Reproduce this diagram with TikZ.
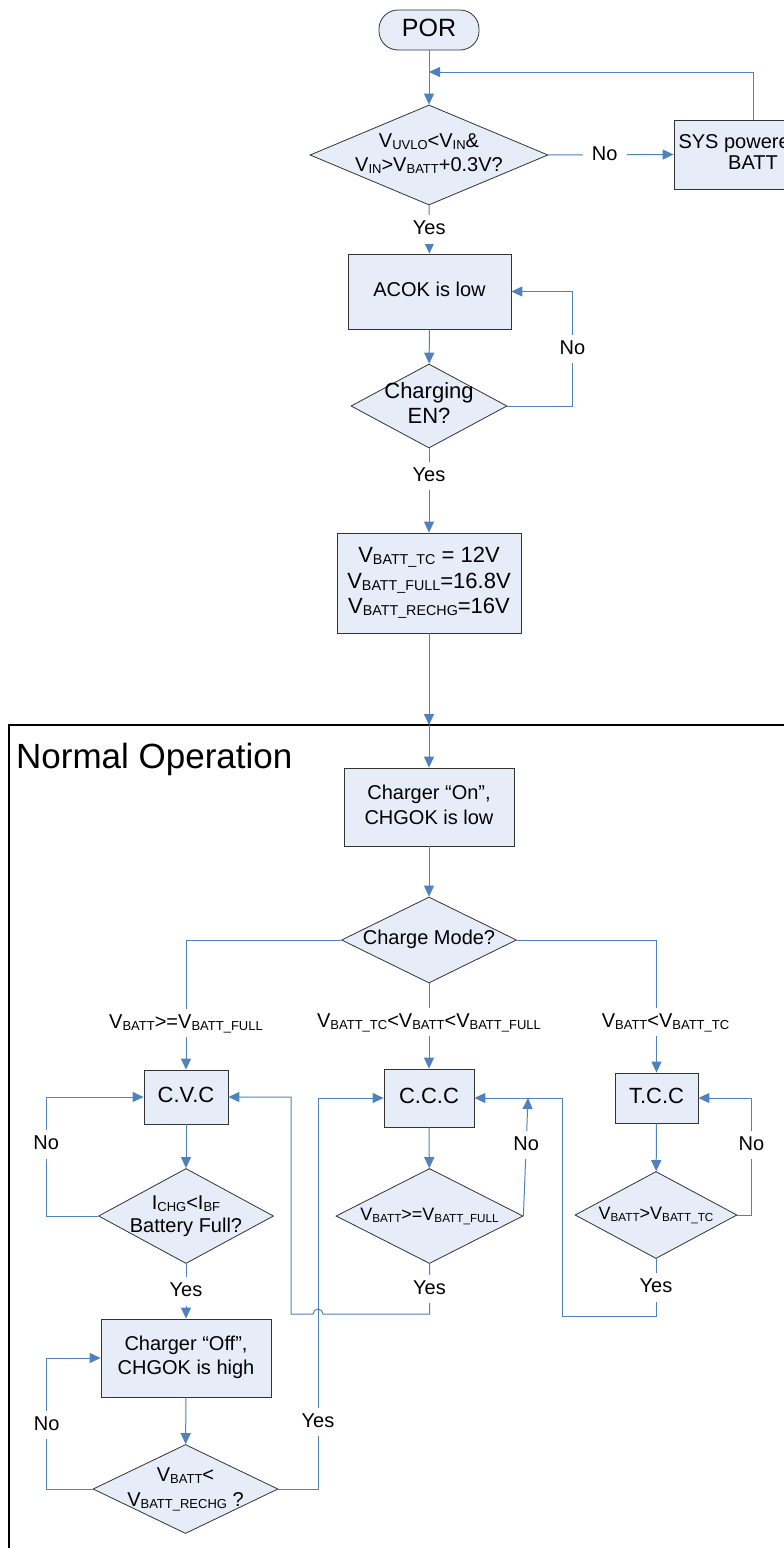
\documentclass[tikz,border=0pt]{standalone}
\usepackage{fontspec}
\setmainfont{Liberation Sans}
\usetikzlibrary{shapes.geometric,arrows.meta}
\definecolor{lineblue}{HTML}{4F81BD}
\definecolor{boxfill}{HTML}{E6EDF8}
\newsavebox\zbx
\newcommand\zc[1]{\sbox\zbx{\begin{tabular}{@{}c@{}}#1\end{tabular}}\makebox[0pt]{\raisebox{\dimexpr-0.5\ht\zbx+0.5\dp\zbx\relax}[0pt][0pt]{\usebox\zbx}}}
\newcommand\fs[2]{\fontsize{#1}{#2}\selectfont}
\newcommand\sbx[1]{\raisebox{-0.1em}{\scalebox{0.65}{#1}}}
\tikzset{
  base/.style={draw=black!80, line width=0.8pt, fill=boxfill, inner sep=0pt},
  box/.style={base, rectangle},
  dia/.style={base, diamond},
  term/.style={base, rectangle, rounded corners=19pt},
  arr/.style={draw=lineblue, line width=1pt, -{Triangle[length=11pt,width=10pt]}},
  lbl/.style={fill=white, inner xsep=9pt, inner ysep=5pt, text height=14.5pt, text depth=4pt, font=\fs{20}{24}},
}
\begin{document}
\begin{tikzpicture}[x=1pt,y=-1pt]
\useasboundingbox (0,0) rectangle (784,1548);
\clip (0,0) rectangle (784,1548);
% frame
\draw[line width=2.5pt] (9,1560) -- (9,725) -- (800,725);
\node[anchor=base west, inner sep=0pt, font=\fs{35}{40}] (nop) at (16,768) {Normal Operation};
% nodes
\node[term, minimum width=100pt, minimum height=40pt, font=\fs{25}{30}] (por) at (429,30) {\zc{POR}};
\node[dia, minimum width=238pt, minimum height=100pt, font=\fs{20}{24}] (d1) at (429,155) {\zc{V\sbx{UVLO}<V\sbx{IN}\&\\V\sbx{IN}>V\sbx{BATT}+0.3V?}};
\node[box, minimum width=158pt, minimum height=69pt, font=\fs{20}{21}] (sys) at (753,154.5) {\zc{SYS powered by\\BATT}};
\node[box, minimum width=163pt, minimum height=75pt, font=\fs{20}{24}] (acok) at (429.5,291.5) {\zc{ACOK is low}};
\node[dia, minimum width=156pt, minimum height=84pt, font=\fs{22}{25}] (d2) at (429,406) {\zc{Charging\\EN?}};
\node[box, minimum width=184pt, minimum height=100pt, font=\fs{22}{25.5}] (cfg) at (429,583) {\zc{V\sbx{BATT\_TC} = 12V\\V\sbx{BATT\_FULL}=16.8V\\V\sbx{BATT\_RECHG}=16V}};
\coordinate (fr) at (429,725);
\coordinate (j1) at (429,72);
\node[box, minimum width=170pt, minimum height=78pt, font=\fs{20}{25}] (chgon) at (429,807) {\zc{Charger “On”,\\CHGOK is low}};
\node[dia, minimum width=175pt, minimum height=86pt, font=\fs{20}{24}] (mode) at (429,940) {\zc{Charge Mode?}};
\node[box, minimum width=84pt, minimum height=54pt, font=\fs{22}{25}] (cvc) at (186,1097) {\zc{C.V.C}};
\node[box, minimum width=90pt, minimum height=58pt, font=\fs{22}{25}] (ccc) at (429,1098) {\zc{C.C.C}};
\node[box, minimum width=83pt, minimum height=50pt, font=\fs{22}{25}] (tcc) at (656.5,1098) {\zc{T.C.C}};
\node[dia, minimum width=175pt, minimum height=95pt, font=\fs{20}{23}] (dcv) at (186,1216) {\zc{I\sbx{CHG}<I\sbx{BF}\\Battery Full?}};
\node[dia, minimum width=187pt, minimum height=95pt, font=\fs{18}{22}] (dcc) at (429.5,1216) {\zc{V\sbx{BATT}>=V\sbx{BATT\_FULL}}};
\node[dia, minimum width=162pt, minimum height=87pt, font=\fs{18}{22}] (dtc) at (656,1215) {\zc{V\sbx{BATT}>V\sbx{BATT\_TC}}};
\node[box, minimum width=170pt, minimum height=78pt, font=\fs{20}{23.5}] (chgoff) at (186,1358) {\zc{Charger “Off”,\\CHGOK is high}};
\node[dia, minimum width=185pt, minimum height=89pt, font=\fs{20}{25}] (drc) at (185.5,1489) {\zc{V\sbx{BATT}<\\V\sbx{BATT\_RECHG} ?}};
\coordinate (v1) at (318,1098);
\coordinate (nt) at (528,1098);
\coordinate (hl) at (291,1314);
% connectors
\draw[arr] (por) -- (d1);
\draw[arr] (sys.north) |- (j1);
\draw[arr] (d1.east) -- node[lbl,pos=0.45] (no1) {No} (sys.west);
\draw[arr] (d1) -- node[lbl] (yes1) {Yes} (acok);
\draw[arr] (acok) -- (d2);
\draw[arr] (d2.east) -- ++(65,0) |- node[lbl,pos=0.25] (no2) {No} (acok.east);
\draw[arr] (d2) -- node[lbl,pos=0.33] (yes2) {Yes} (cfg);
\draw[arr] (cfg) -- (fr);
\draw[arr] (fr) -- (chgon);
\draw[arr] (chgon) -- (mode);
\draw[arr] (mode.west) -| node[lbl,pos=0.82] (m1) {V\sbx{BATT}>=V\sbx{BATT\_FULL}} (cvc.north);
\draw[arr] (mode.south) -- node[lbl,pos=0.45] (m2) {V\sbx{BATT\_TC}<V\sbx{BATT}<V\sbx{BATT\_FULL}} (ccc.north);
\draw[arr] (mode.east) -| node[lbl,pos=0.81,xshift=9pt] (m3) {V\sbx{BATT}<V\sbx{BATT\_TC}} (tcc.north);
\draw[arr] (cvc) -- (dcv);
\draw[arr] (dcv.west) -- ++(-52,0) |- node[lbl,pos=0.3] (no3) {No} (cvc.west);
\draw[arr] (dcv) -- node[lbl] (yes3) {Yes} (chgoff);
\draw[arr] (chgoff) -- (drc);
\draw[arr] (drc.west) -- ++(-46,0) |- node[lbl,pos=0.245] (no4) {No} (chgoff.west);
\draw[arr] (drc.east) -| node[lbl,pos=0.586] (yes4) {Yes} (v1) -- (ccc.west);
\draw[arr] (ccc) -- (dcc);
\draw[arr] (dcc.east) -- node[lbl,pos=0.6] (no5) {No} (nt);
\draw[arr] (dcc.south) -- node[lbl] (yes5) {Yes} (429.5,1314) -- (323,1314) arc[start angle=0, end angle=-180, radius=5] -- (hl) |- (cvc.east);
\draw[arr] (tcc) -- (dtc);
\draw[arr] (dtc.east) -- ++(14,0) |- node[lbl,pos=0.3] (no6) {No} (tcc.east);
\draw[arr] (dtc.south) -- node[lbl] (yes6) {Yes} (656,1316) -- (562,1316) -- (562,1098) -- (ccc.east);
\end{tikzpicture}
\end{document}
